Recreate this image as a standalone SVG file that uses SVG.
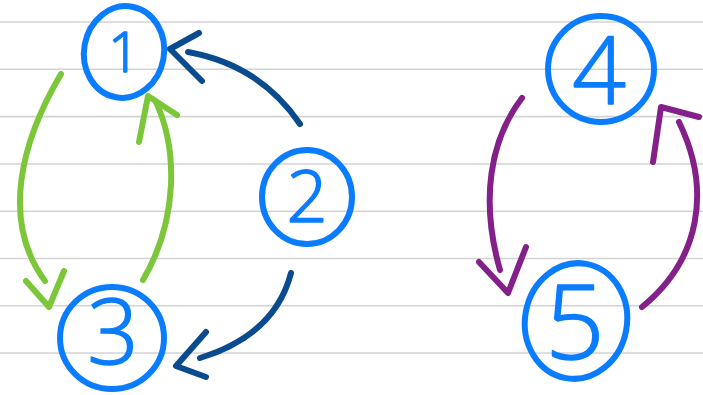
<svg xmlns="http://www.w3.org/2000/svg" width="703" height="395" viewBox="0 0 703 395">
<style>
.rule{stroke:#d3d3d3;stroke-width:1.6}
.node{fill:none;stroke:#0a7cff;stroke-width:6}
.lbl{fill:#0a7cff;stroke:#0a7cff;stroke-width:1.6;stroke-linejoin:round;font-family:"Open Sans","Liberation Sans",Arial,sans-serif;font-weight:300;text-anchor:middle;dominant-baseline:central}
.c{fill:none;stroke-width:6;stroke-linecap:round;stroke-linejoin:round}
.navy{stroke:#0a4a8e}
.green{stroke:#7cc63a}
.purple{stroke:#84208a}
</style>
<rect width="703" height="395" fill="#ffffff"/>
<g id="ruled-lines">
<line class="rule" x1="0" y1="22" x2="703" y2="22"/>
<line class="rule" x1="0" y1="69.3" x2="703" y2="69.3"/>
<line class="rule" x1="0" y1="116.6" x2="703" y2="116.6"/>
<line class="rule" x1="0" y1="164" x2="703" y2="164"/>
<line class="rule" x1="0" y1="211.2" x2="703" y2="211.2"/>
<line class="rule" x1="0" y1="258.5" x2="703" y2="258.5"/>
<line class="rule" x1="0" y1="305.8" x2="703" y2="305.8"/>
<line class="rule" x1="0" y1="353" x2="703" y2="353"/>
</g>
<g id="connectors">
<path class="c navy" d="M300,124 Q260,65 188,52"/>
<path class="c navy" d="M199,33 L170,49 L202,81"/>
<path class="c navy" d="M291,273 Q275,335 200,358"/>
<path class="c navy" d="M206,332 L176,366 L206,377"/>
<path class="c green" d="M61,74 C22,140 0,220 45,281"/>
<path class="c green" d="M26,281 L49,307 L64,271"/>
<path class="c green" d="M143,280 C178,220 178,150 156,102"/>
<path class="c green" d="M139,142 L148,96 L177,115"/>
<path class="c purple" d="M522,98 C490,140 480,200 500,270"/>
<path class="c purple" d="M479,262 L508,293 L526,247"/>
<path class="c purple" d="M642,307 C700,260 712,190 679,122"/>
<path class="c purple" d="M653,162 L661,107 L699,117"/>
</g>
<g id="node-1"><ellipse class="node" cx="124" cy="52" rx="40" ry="46" transform="rotate(10 124 52)"/><text class="lbl" x="124" y="50" font-size="56">1</text></g>
<g id="node-2"><ellipse class="node" cx="307" cy="197" rx="45" ry="47"/><text class="lbl" x="307" y="194" font-size="72">2</text></g>
<g id="node-3"><ellipse class="node" cx="112" cy="338" rx="52" ry="51"/><text class="lbl" x="113" y="329" font-size="90">3</text></g>
<g id="node-4"><circle class="node" cx="601" cy="69" r="53"/><text class="lbl" x="599" y="68" font-size="94">4</text></g>
<g id="node-5"><ellipse class="node" cx="576" cy="321" rx="51" ry="58" transform="rotate(10 576 321)"/><text class="lbl" x="575" y="318" font-size="104">5</text></g>
</svg>
